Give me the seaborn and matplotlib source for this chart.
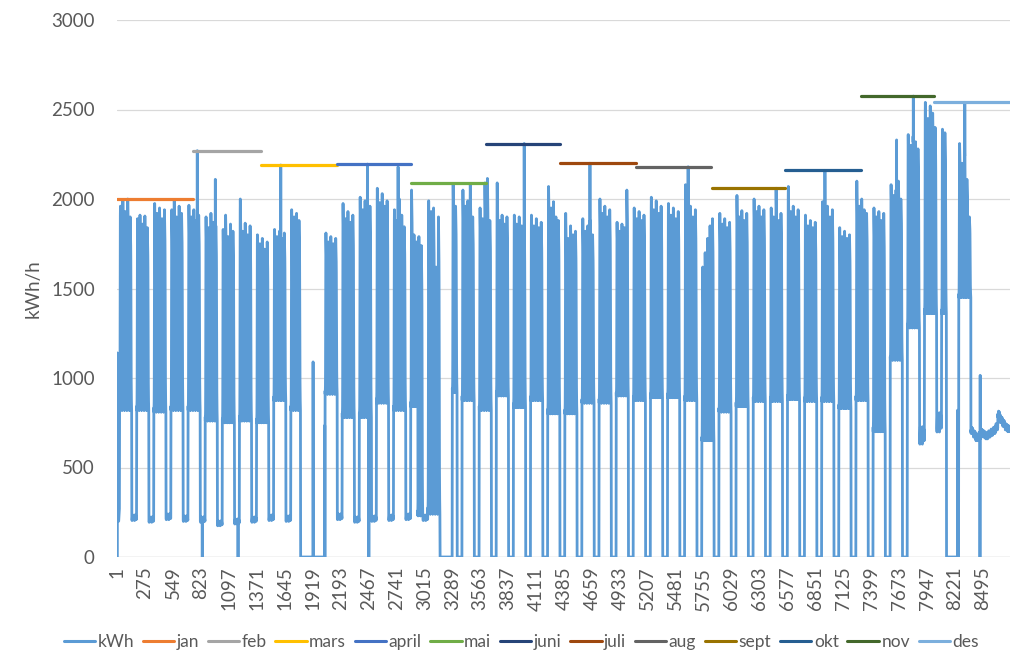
import numpy as np
import pandas as pd
import matplotlib
matplotlib.use("Agg")
import matplotlib.pyplot as plt
from matplotlib.lines import Line2D
import seaborn as sns

# ---------------- data ----------------
month_names = ["jan", "feb", "mars", "april", "mai", "juni", "juli", "aug", "sept", "okt", "nov", "des"]
month_days = [31, 28, 31, 30, 31, 30, 31, 31, 30, 31, 30, 31]
month_colors = ["#ED7D31", "#A5A5A5", "#FFC000", "#4472C4", "#70AD47", "#264478",
                "#9E480E", "#636363", "#997300", "#255E91", "#43682B", "#7CAFDD"]
kwh_color = "#5B9BD5"

# Jan 1 (holiday), hourly kWh/h
jan1_hours = [0, 0, 0, 0, 1140, 320, 300, 280, 260, 250, 240, 230,
              220, 210, 205, 200, 200, 210, 220, 230, 240, 250, 260, 270]

# daytime peak per weekday (Mon..Fri), one row per week, weeks starting Jan 2
week_peaks = [
    [1960, 1990, 1930, 2000, 1900],
    [1890, 1910, 1860, 1905, 1840],
    [1975, 1920, 1950, 1890, 1940],
    [1940, 1995, 1900, 1960, 1920],
    [1965, 1900, 1940, 1880, 1910],
    [1900, 1840, 1920, 1870, 1850],
    [1830, 1910, 1790, 1860, 1820],
    [2000, 1820, 1865, 1800, 1850],
    [1800, 1750, 1780, 1720, 1760],
    [1830, 1790, 1820, 1780, 1810],
    [1940, 1900, 1920, 1880, 0],
    [0, 0, 0, 0, 0],
    [1810, 1760, 1790, 1750, 1780],
    [1975, 1890, 1930, 1870, 1910],
    [2010, 1940, 1990, 1900, 1960],
    [2060, 1980, 2030, 1960, 1990],
    [1940, 1880, 2000, 1910, 1845],
    [2050, 1800, 1760, 1790, 1740],
    [1990, 1930, 1950, 1620, 1900],
    [0, 0, 0, 2080, 1960],
    [2050, 1960, 1990, 2080, 1900],
    [1950, 1890, 2090, 2115, 1880],
    [2090, 1880, 1910, 1860, 1900],
    [1910, 1860, 1900, 1850, 1880],
    [1910, 1850, 1890, 1840, 1870],
    [2070, 1950, 1985, 1900, 1880],
    [1920, 1780, 1850, 1800, 1820],
    [1890, 1820, 1850, 1880, 1800],
    [2000, 1920, 1960, 1900, 1940],
    [1870, 1820, 1860, 1840, 2050],
    [1950, 1890, 1930, 1880, 1910],
    [2010, 1940, 1990, 1920, 1960],
    [1975, 1910, 1950, 1890, 1930],
    [2080, 1920, 1960, 1900, 1940],
    [1620, 1700, 1780, 1850, 1890],
    [1920, 1860, 1890, 1840, 1870],
    [2020, 1900, 1935, 1880, 1920],
    [2000, 1930, 1960, 1900, 1940],
    [1950, 1900, 2060, 1880, 1920],
    [2070, 1930, 1960, 1900, 1940],
    [1910, 1850, 1880, 1840, 1870],
    [1985, 1920, 1960, 1900, 1940],
    [1840, 1790, 1820, 1780, 1800],
    [2100, 1960, 2000, 1940, 1920],
    [1950, 1900, 1930, 1880, 1920],
    [2080, 2020, 2050, 2100, 2000],
    [2360, 2300, 2350, 2320, 2280],
    [2540, 2450, 2520, 2480, 2400],
    [2390, 2370, 0, 0, 0],
    [2310, 2200, 2300, 2110, 1900],
]

# night level on weekdays, one per week
week_night = [820, 820, 810, 820, 820, 760, 750, 760, 750, 875,
              820, 0, 910, 780, 780, 860, 820, 840, 240, 920,
              875, 820, 900, 835, 875, 800, 800, 860, 860, 900,
              875, 890, 890, 875, 650, 810, 840, 870, 870, 880,
              870, 870, 830, 875, 700, 1100, 1280, 1360, 1360, 1450]
night_override = {123: 230, 124: 230}

# Saturday/Sunday level, one per week
weekend_level = [210, 200, 215, 205, 200, 180, 190, 200, 210, 205,
                 0, 0, 215, 200, 205, 210, 215, 210, 0, 0,
                 0, 0, 0, 0, 0, 0, 0, 0, 0, 0,
                 0, 0, 0, 0, 0, 0, 0, 0, 0, 0,
                 0, 0, 0, 0, 0, 0, 650, 720, 0]

# hourly shape of a working day (0 = night level, 1 = daytime peak)
day_shape = [0.0, 0.02, 0.0, 0.03, 0.05, 0.15, 0.45, 0.8, 0.95, 1.0, 0.97, 0.93,
             0.9, 0.88, 0.85, 0.78, 0.6, 0.4, 0.25, 0.15, 0.08, 0.05, 0.02, 0.0]
weekend_shape = [1.05, 1.0, 0.98, 0.97, 0.97, 1.0, 1.05, 1.1, 1.12, 1.1, 1.08, 1.05,
                 1.03, 1.0, 1.0, 1.02, 1.05, 1.08, 1.1, 1.08, 1.05, 1.03, 1.0, 1.02]

# Christmas period (from day 349), daily level and hourly wiggle
tail_start_day = 349
tail_levels = [700, 680, 660, 670, 690, 680, 670, 680, 690, 700, 720, 790, 760, 740, 720, 710]
tail_shape = [0, 10, -10, 5, -5, 0, 15, 25, 20, 10, 0, -10, 5, 15, -5, 0, 10, 20, 10, 0, -10, -5, 5, 0]

# single-hour readings (hour number, kWh/h)
spikes = [(788, 2270), (837, 0), (965, 2110), (1188, 0), (1607, 2190), (1924, 1090),
          (2038, 735), (2457, 2195), (2471, 0), (2758, 2180), (3995, 2310), (4640, 2200),
          (5603, 2180), (6945, 2160), (7648, 2330), (7812, 2575), (8246, 820),
          (8317, 2540), (8466, 0), (8468, 1015)]

xtick_labels = ["1", "275", "549", "823", "1097", "1371", "1645", "1919", "2193", "2467",
                "2741", "3015", "3289", "3563", "3837", "4111", "4385", "4659", "4933",
                "5207", "5481", "5755", "6029", "6303", "6577", "6851", "7125", "7399",
                "7673", "7947", "8221", "8495"]

# ---------------- build hourly series ----------------
kwh = []
for d in range(365):
    if d == 0:
        vals = list(jan1_hours)
    elif d >= tail_start_day:
        lvl = tail_levels[d - tail_start_day]
        vals = [lvl + s for s in tail_shape]
    else:
        k, dow = divmod(d - 1, 7)
        if dow < 5:
            P = week_peaks[k][dow]
            N = night_override.get(d, week_night[k])
            vals = [0] * 24 if P == 0 else [N + (P - N) * s for s in day_shape]
        else:
            W = weekend_level[k]
            vals = [W * s for s in weekend_shape]
    kwh.extend(vals)
for h, v in spikes:
    kwh[h - 1] = v

hours = np.arange(1, len(kwh) + 1)
df = pd.DataFrame({"hour": hours, "kWh": kwh})

# ---------------- plot ----------------
sns.set_theme(style="white")
plt.rcParams["font.family"] = ["Lato", "DejaVu Sans"]
text_color = "#595959"

fig = plt.figure(figsize=(10.24, 6.69), dpi=100)
ax = fig.add_axes([117 / 1024, 1 - 557 / 669, (1010 - 117) / 1024, (557 - 20) / 669])

sns.lineplot(data=df, x="hour", y="kWh", ax=ax, color=kwh_color, linewidth=2.0,
             estimator=None, errorbar=None, sort=False, zorder=3)

handles = [Line2D([0], [0], color=kwh_color, lw=2.2)]
start = 1
for name, nd, col in zip(month_names, month_days, month_colors):
    end = start + nd * 24 - 1
    mx = max(kwh[start - 1:end])
    seg = pd.DataFrame({"hour": [start, end], "v": [mx, mx]})
    sns.lineplot(data=seg, x="hour", y="v", ax=ax, color=col, linewidth=2.3,
                 estimator=None, errorbar=None, zorder=4)
    handles.append(Line2D([0], [0], color=col, lw=2.2))
    start = end + 1

ax.set_xlim(0.5, 8760.5)
ax.set_ylim(0, 3000)
ax.set_yticks(np.arange(0, 3001, 500))
ax.set_xticks([int(t) for t in xtick_labels])
ax.set_xticklabels(xtick_labels, rotation=90)
ax.tick_params(axis="y", length=0, pad=16, labelsize=13.5, labelcolor=text_color)
ax.tick_params(axis="x", length=0, pad=7, labelsize=13.5, labelcolor=text_color)
ax.grid(axis="y", color="#D9D9D9", linewidth=0.9)
ax.grid(axis="x", visible=False)
for s in ax.spines.values():
    s.set_visible(False)
ax.axhline(0, color="#D9D9D9", linewidth=1.0, zorder=1)
ax.set_xlabel("")
ax.set_ylabel("kWh/h", fontsize=13.5, color=text_color)
ax.yaxis.set_label_coords(-0.084, 0.5)

fig.legend(handles, ["kWh"] + month_names, loc="center", bbox_to_anchor=(0.509, 0.040),
           ncol=13, frameon=False, fontsize=12.5, handlelength=1.8, handletextpad=0.15,
           columnspacing=0.5, labelcolor=text_color)

fig.savefig("out.png", dpi=100)
